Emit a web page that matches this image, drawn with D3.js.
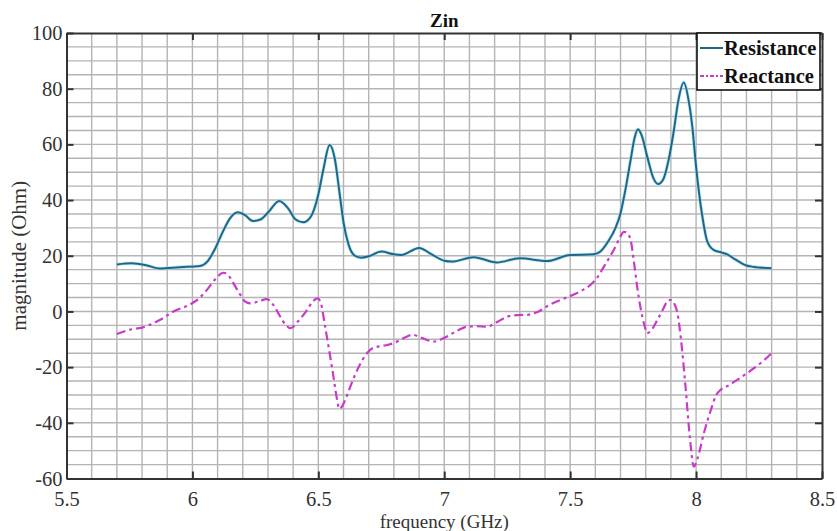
<!DOCTYPE html>
<html><head><meta charset="utf-8">
<script src="https://cdn.jsdelivr.net/npm/d3@7"></script>
<style>body{margin:0;background:#fff}svg{display:block}</style>
</head><body>
<svg id="c" width="837" height="531"></svg>
<script>
const resFreq = [5.70,5.76,5.82,5.87,5.95,6.03,6.06,6.09,6.12,6.15,6.18,6.21,6.24,6.27,6.30,6.345,6.38,6.41,6.44,6.47,6.50,6.52,6.545,6.565,6.585,6.60,6.62,6.645,6.67,6.70,6.75,6.80,6.83,6.90,6.95,7.00,7.03,7.117,7.208,7.30,7.41,7.50,7.594,7.62,7.65,7.68,7.70,7.72,7.74,7.755,7.769,7.785,7.806,7.83,7.849,7.87,7.89,7.91,7.93,7.951,7.97,7.985,8.00,8.025,8.045,8.071,8.10,8.124,8.15,8.177,8.20,8.23,8.30];
const resVal  = [16.9,17.3,16.5,15.4,15.9,16.3,18,22.5,28.5,33.5,35.6,34.5,32.5,33,35.5,39.7,37,33,32,34,42,51,59.8,55,42,32,24,20,19.3,19.8,21.5,20.5,20.3,22.8,20.5,18.2,17.9,19.5,17.6,19.1,18.1,20.3,20.5,21.5,25,30,35.3,44,54.4,62,65.4,63,55.6,48,45.8,47.5,54,64,76,82.2,76,66.4,52,34,25,22,21.2,20.5,19,17.5,16.5,16,15.5];
const reaFreq = [5.70,5.75,5.80,5.87,5.925,5.998,6.03,6.06,6.09,6.123,6.14,6.163,6.19,6.21,6.229,6.26,6.296,6.32,6.349,6.37,6.39,6.42,6.455,6.48,6.497,6.51,6.527,6.545,6.56,6.575,6.583,6.595,6.61,6.627,6.66,6.693,6.72,6.76,6.799,6.84,6.875,6.91,6.958,7.011,7.05,7.09,7.13,7.17,7.21,7.25,7.29,7.33,7.375,7.42,7.46,7.50,7.54,7.58,7.61,7.634,7.66,7.68,7.70,7.713,7.725,7.74,7.753,7.766,7.78,7.795,7.806,7.82,7.846,7.87,7.89,7.90,7.915,7.926,7.94,7.958,7.975,7.991,8.005,8.031,8.06,8.08,8.097,8.13,8.163,8.20,8.23,8.27,8.30];
const reaVal  = [-8.1,-6.6,-5.8,-3.1,0,2.9,5,8,11.5,13.9,13.3,10.1,6,3.5,2.9,3.5,4.4,2.5,-1.9,-4.8,-6.0,-3.5,0.5,3.8,4.7,3,-5.5,-15,-23.4,-32,-35,-34,-31,-27,-20,-15,-13,-12.3,-11.4,-9.5,-8.4,-9.5,-10.8,-9.0,-7,-5.5,-5.3,-5.5,-3.8,-1.9,-1.3,-1.2,0,2.5,4.1,5.5,7.2,9.5,12.5,16.1,20,23.3,27,28.6,28.3,25.7,18,8.9,1,-5,-7.8,-7,-3.1,1,4,4.1,2.5,-0.6,-10,-27,-45,-55.7,-53,-43.7,-35,-30,-28.2,-26.5,-24.6,-22.3,-20.4,-17.5,-15];
const xTicks = [5.5,6,6.5,7,7.5,8,8.5];
const yTicks = [-60,-40,-20,0,20,40,60,80,100];
const seriesNames = ["Resistance","Reactance"];
const titleText = "Zin";
const xLabel = "frequency (GHz)";
const yLabel = "magnitude (Ohm)";

const svg = d3.select("#c");
const L=66.5, R=822, T=33, B=478.5;
const x = d3.scaleLinear().domain([5.5,8.5]).range([L,R]);
const y = d3.scaleLinear().domain([-60,100]).range([B,T]);
const font = "'Liberation Serif','Times New Roman',serif";
const fmt = d => String(d);

// grid
const g = svg.append("g");
g.selectAll("line.vx").data(d3.range(5.6,8.45,0.1)).enter().append("line")
 .attr("x1",d=>x(d)).attr("x2",d=>x(d)).attr("y1",T).attr("y2",B)
 .attr("stroke","#b4b4b4").attr("stroke-width",1.4);
g.selectAll("line.hy").data(d3.range(-55,100,5)).enter().append("line")
 .attr("y1",d=>y(d)).attr("y2",d=>y(d)).attr("x1",L).attr("x2",R)
 .attr("stroke","#b4b4b4").attr("stroke-width",1.4);

// axes
const axB = d3.axisBottom(x).tickValues(xTicks).tickSizeInner(-7).tickSizeOuter(0).tickPadding(13).tickFormat(fmt);
const axL = d3.axisLeft(y).tickValues(yTicks).tickSizeInner(-7).tickSizeOuter(0).tickPadding(4).tickFormat(fmt);
const axT = d3.axisTop(x).tickValues(xTicks).tickSizeInner(-7).tickSizeOuter(0).tickFormat("");
const axR = d3.axisRight(y).tickValues(yTicks).tickSizeInner(-7).tickSizeOuter(0).tickFormat("");
function style(sel){sel.selectAll("path").attr("stroke","#333").attr("stroke-width",2);
 sel.selectAll("line").attr("stroke","#333").attr("stroke-width",2);
 sel.selectAll("text").attr("font-family",font).attr("font-size",20.5).attr("fill","#333");}
svg.append("g").attr("transform",`translate(0,${B})`).call(axB).call(style);
svg.append("g").attr("transform",`translate(${L},0)`).call(axL).call(style);
svg.append("g").attr("transform",`translate(0,${T})`).call(axT).call(style);
svg.append("g").attr("transform",`translate(${R},0)`).call(axR).call(style);

// lines
const line = d3.line().x(d=>x(d[0])).y(d=>y(d[1])).curve(d3.curveMonotoneX);
const resData = resFreq.map((f,i)=>[f,resVal[i]]);
const reaData = reaFreq.map((f,i)=>[f,reaVal[i]]);
svg.append("path").datum(resData).attr("d",line).attr("fill","none").attr("stroke","#9fdcf0").attr("stroke-width",3.6).attr("opacity",0.6);
svg.append("path").datum(resData).attr("d",line).attr("fill","none").attr("stroke","#1f6787").attr("stroke-width",2);
svg.append("path").datum(reaData).attr("d",line).attr("fill","none").attr("stroke","#c93ac9").attr("stroke-width",2.2).attr("stroke-dasharray","9,4,3,4");

// title & labels
svg.append("text").attr("x",(L+R)/2).attr("y",27).attr("text-anchor","middle").attr("font-family",font).attr("font-weight","bold").attr("font-size",19).attr("fill","#111").text(titleText);
svg.append("text").attr("x",(L+R)/2).attr("y",528).attr("text-anchor","middle").attr("font-family",font).attr("font-size",19).attr("fill","#333").text(xLabel);
svg.append("text").attr("transform",`translate(26,${(T+B)/2}) rotate(-90)`).attr("text-anchor","middle").attr("font-family",font).attr("font-size",21).attr("fill","#333").text(yLabel);

// legend
const lg = svg.append("g");
lg.append("rect").attr("x",697).attr("y",33).attr("width",123).attr("height",57).attr("fill","#fff").attr("stroke","#111").attr("stroke-width",1.6);
const colors = ["#1f6787","#c93ac9"];
const dashes = [null,"4,2,2,2"];
seriesNames.forEach((n,i)=>{
  const yy = 48 + i*28;
  lg.append("line").attr("x1",700).attr("x2",723).attr("y1",yy).attr("y2",yy).attr("stroke",colors[i]).attr("stroke-width",2).attr("stroke-dasharray",dashes[i]);
  lg.append("text").attr("x",724).attr("y",yy+7).attr("font-family",font).attr("font-weight","bold").attr("font-size",20.5).attr("fill","#111").text(n);
});
</script>
</body></html>
